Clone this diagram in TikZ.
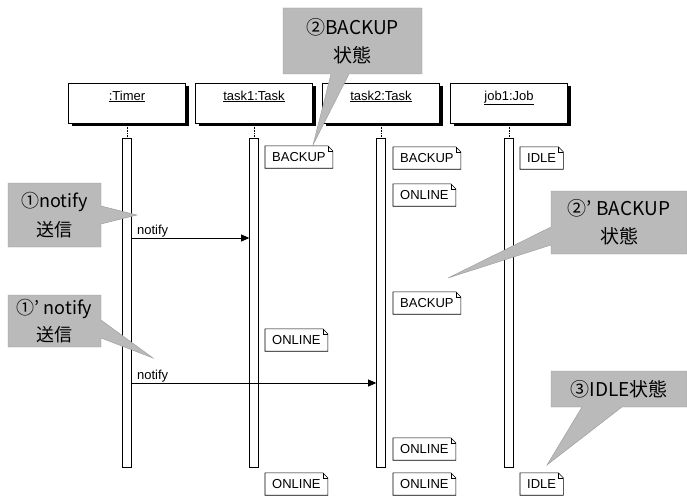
\documentclass[tikz,border=0pt]{standalone}
\usepackage{fontspec}
\setmainfont{Liberation Sans}
\newfontfamily\cjk{Noto Sans CJK JP}
\usetikzlibrary{shapes.callouts,shadows,arrows.meta}

\tikzset{
  objbox/.style={draw,line width=0.6pt,fill=white,minimum width=117pt,minimum height=40pt,inner ysep=0pt,
    text height=9pt,text depth=15pt,font=\fontsize{13}{15}\selectfont,
    drop shadow={shadow xshift=3pt,shadow yshift=-3pt,fill=black,opacity=1}},
  actbar/.style={draw,line width=0.6pt,fill=white,minimum width=9pt,minimum height=329pt,inner sep=0pt},
  lifeline/.style={densely dotted,line width=0.6pt},
  statenote/.style={anchor=west,inner xsep=7pt,inner ysep=0pt,minimum height=22pt,
    font=\fontsize{13}{15}\selectfont},
  noteline/.style={line width=0.6pt},
  msg/.style={-{Triangle[length=8pt,width=7pt]},line width=0.6pt},
  msglab/.style={font=\fontsize{13}{15}\selectfont,anchor=south west,inner sep=1pt,xshift=4pt},
  hint/.style={rectangle callout,fill=black!27,draw=black!40,align=center,
    font=\cjk\fontsize{19}{28}\selectfont,inner sep=2pt,callout pointer width=18pt}
}

\begin{document}
\begin{tikzpicture}[x=1pt,y=-1pt]
 \useasboundingbox (0,0) rectangle (687,500);
 % ---- objects, lifelines, activation bars ----
 \foreach \nm/\x/\lab in {timer/127/:Timer, taskA/254/task1:Task, taskB/381/task2:Task, job/509/job1:Job} {
   \node[objbox] (\nm) at (\x,103) {\underline{\lab}};
   \node[actbar] (\nm-bar) at (\x,302.5) {};
   \draw[lifeline] (\nm) -- (\nm-bar);}
 % ---- state notes ----
 \foreach \nm/\x/\y/\lab in {s1/265/157/BACKUP, s2/265/340/ONLINE, s3/265/484/ONLINE,
   s4/393/158/BACKUP, s5/393/195/ONLINE, s6/393/303/BACKUP, s7/393/449/ONLINE, s8/393/484/ONLINE,
   s9/520/158/IDLE, s10/520/484/IDLE} {
   \node[statenote] (\nm) at (\x,\y) {\lab};
   \draw[noteline] (\nm.south west) |- ([xshift=-5pt]\nm.north east) -- ([yshift=-5pt]\nm.north east)
     -- (\nm.south east) -- cycle;
   \draw[noteline] ([xshift=-5pt]\nm.north east) |- ([yshift=-5pt]\nm.north east);}
 % ---- messages ----
 \coordinate (m1) at (0,238);
 \coordinate (m2) at (0,383);
 \draw[msg] (timer-bar.east |- m1) -- (taskA-bar.west |- m1) node[msglab,at start]{notify};
 \draw[msg] (timer-bar.east |- m2) -- (taskB-bar.west |- m2) node[msglab,at start]{notify};
 % ---- callouts ----
 \coordinate (p1) at (137,215);
 \coordinate (p1b) at (153,358);
 \coordinate (p2) at (313,145);
 \coordinate (p2b) at (448,278);
 \coordinate (p3) at (547,465);
 \node[hint,font=\cjk\fontsize{18}{29}\selectfont,minimum width=93pt,minimum height=64pt,callout absolute pointer={(p1)}] (c1) at (54.5,215) {①notify\\送信};
 \node[hint,font=\cjk\fontsize{18}{27}\selectfont,minimum width=93pt,minimum height=52pt,callout absolute pointer={(p1b)}] (c1b) at (54.5,321) {①’ notify\\送信};
 \node[hint,minimum width=139pt,minimum height=66pt,callout absolute pointer={(p2)}] (c2) at (352.5,41) {②BACKUP\\状態};
 \node[hint,minimum width=136pt,minimum height=63pt,callout absolute pointer={(p2b)}] (c2b) at (619,222.5) {②’ BACKUP\\状態};
 \node[hint,minimum width=136pt,minimum height=36pt,callout pointer width=40pt,callout absolute pointer={(p3)}] (c3) at (619,389) {③IDLE状態};
\end{tikzpicture}
\end{document}
